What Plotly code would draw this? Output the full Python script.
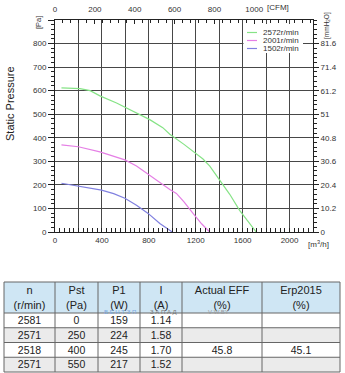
import plotly.graph_objects as go

# ---------------- data ----------------
flow_2572 = [55, 150, 213, 300, 383, 525, 666, 808, 919, 979, 1100, 1200, 1262, 1320, 1404, 1490, 1574, 1650, 1716]
pst_2572 = [612, 612, 609, 600, 578, 548, 512, 477, 443, 415, 372, 335, 310, 280, 222, 160, 92, 45, 0]

flow_2001 = [55, 199, 383, 596, 695, 780, 865, 979, 1035, 1100, 1177, 1250, 1319]
pst_2001 = [370, 362, 340, 306, 280, 249, 218, 180, 164, 128, 79, 35, 0]

flow_1502 = [55, 199, 397, 500, 596, 695, 794, 894, 1000]
pst_1502 = [207, 195, 178, 163, 143, 114, 79, 36, 0]

series_names = ["2572r/min", "2001r/min", "1502r/min"]
series_colors = ["#86e386", "#e57fe5", "#8080e0"]

x_ticks_m3h = list(range(0, 2201, 200))
x_labels_m3h = ["0", " ", "400", " ", "800", " ", "1200", " ", "1600", " ", "2000", " "]
x_ticks_cfm = [0, 200, 400, 600, 800, 1000]
y_ticks_pa = list(range(0, 901, 100))
y_labels_pa = ["0", "100", "200", "300", "400", "500", "600", "700", "800", " "]
mm_ticks = [0, 10.2, 20.4, 30.6, 40.8, 51, 61.2, 71.4, 81.6]
mm_labels = ["0", "10.2", "20.4", "30.6", "40.8", "51", "61.2", "71.4", "81.6"]

header_top = ["n", "Pst", "P1", "I", "Actual\u00a0EFF", "Erp2015"]
header_unit = ["(r/min)", "(Pa)", "(W)", "(A)", "(%)", "(%)"]
col_n = ["2581", "2571", "2518", "2571"]
col_pst = ["0", "250", "400", "550"]
col_p1 = ["159", "224", "245", "217"]
col_i = ["1.14", "1.58", "1.70", "1.52"]
col_eff = ["", "", "45.8", ""]
col_erp = ["", "", "45.1", ""]
col_widths = [51, 43, 42, 42, 80, 78]

# ---------------- layout helpers ----------------
W, H = 345, 373
def px(x):
    return x / W
def py(y):
    return 1 - y / H

FONT = "Liberation Sans, Arial, sans-serif"
AX = "#222222"
GRID = "#474747"
TXT = "#333333"
HEAD_BG = "#cfe6f4"
ROW_BG = ["#ffffff", "#ebebeb", "#ffffff", "#ebebeb"]
TLINE = "#666666"
CLEAR = "rgba(0,0,0,0)"

# table frame (pixels)
T_LEFT, T_RIGHT, T_TOP, T_HEAD_BOT, T_BOT = 4, 340, 282, 313, 372
ROW_H = (T_BOT - T_HEAD_BOT) / len(col_n)
TEXT_TOP = 278.2   # plotly draws table text ~cellPad below row top; shift text block up

fig = go.Figure()

for xs, ys, name, col in zip([flow_2572, flow_2001, flow_1502],
                             [pst_2572, pst_2001, pst_1502],
                             series_names, series_colors):
    fig.add_trace(go.Scatter(x=xs, y=ys, mode="lines", name=name,
                             line=dict(color=col, width=1.2),
                             showlegend=False, hoverinfo="skip"))

# dummy trace to make secondary axes render
fig.add_trace(go.Scatter(x=[None], y=[None], xaxis="x2", yaxis="y2",
                         showlegend=False, hoverinfo="skip"))

fig.add_trace(go.Table(
    domain=dict(x=[px(T_LEFT), px(T_RIGHT)], y=[py(T_BOT), py(TEXT_TOP)]),
    columnwidth=col_widths,
    header=dict(values=[[a, b] for a, b in zip(header_top, header_unit)], height=15,
                fill_color=CLEAR, line=dict(color=CLEAR, width=0),
                font=dict(family=FONT, size=11, color="#222222"), align="center"),
    cells=dict(values=[col_n, col_pst, col_p1, col_i, col_eff, col_erp], height=ROW_H,
               fill_color=CLEAR, line=dict(color=CLEAR, width=0),
               font=dict(family=FONT, size=10.5, color="#222222"), align="center"),
))

tickfont = dict(family=FONT, size=8, color=TXT)

fig.update_layout(
    width=W, height=H,
    margin=dict(l=0, r=0, t=0, b=0),
    paper_bgcolor="white", plot_bgcolor="white",
    template="none",
    showlegend=False,
    xaxis=dict(domain=[px(55), px(313)], range=[0, 2200], anchor="y",
               tickmode="array", tickvals=x_ticks_m3h, ticktext=x_labels_m3h,
               showgrid=True, gridcolor=GRID, gridwidth=1, zeroline=False,
               showline=True, linecolor=AX, linewidth=1,
               ticks="inside", ticklen=4, tickcolor=AX, tickfont=tickfont,
               minor=dict(tick0=0, dtick=40, ticks="inside", ticklen=4, tickcolor=AX, showgrid=False)),
    xaxis2=dict(overlaying="x", side="top", anchor="y", range=[0, 2200 / 1.699],
                tickmode="array", tickvals=x_ticks_cfm,
                showgrid=False, zeroline=False,
                showline=True, linecolor=AX, linewidth=1,
                ticks="inside", ticklen=4, tickcolor=AX, tickfont=tickfont,
                ticklabelstandoff=4,
                minor=dict(tick0=0, dtick=40, ticks="inside", ticklen=3, tickcolor=AX, showgrid=False)),
    yaxis=dict(domain=[py(232), py(20)], range=[0, 900], anchor="x",
               tickmode="array", tickvals=y_ticks_pa, ticktext=y_labels_pa,
               showgrid=True, gridcolor=GRID, gridwidth=1, zeroline=False,
               showline=True, linecolor=AX, linewidth=1,
               ticks="outside", ticklen=6, tickcolor=AX, tickfont=tickfont,
               minor=dict(tick0=0, dtick=20, ticks="outside", ticklen=3, tickcolor=AX, showgrid=False)),
    yaxis2=dict(overlaying="y", side="right", anchor="x", range=[0, 900 / 9.8],
                tickmode="array", tickvals=mm_ticks, ticktext=mm_labels,
                showgrid=False, zeroline=False,
                showline=True, linecolor=AX, linewidth=1,
                ticks="outside", ticklen=5, tickcolor=AX, tickfont=tickfont,
                minor=dict(tick0=0, dtick=2.04, ticks="outside", ticklen=3, tickcolor=AX, showgrid=False)),
)

annots = [
    dict(text="Static Pressure", x=px(10), y=py(104), textangle=-90,
         font=dict(family=FONT, size=11, color="#222222")),
    dict(text="[Pa]", x=px(38), y=py(23), textangle=-90,
         font=dict(family=FONT, size=7.5, color=TXT)),
    dict(text="[CFM]", x=px(278), y=py(7),
         font=dict(family=FONT, size=8, color=TXT)),
    dict(text="[mmH<sub>2</sub>O]", x=px(327), y=py(26), textangle=-90,
         font=dict(family=FONT, size=6.5, color=TXT)),
    dict(text="[m<sup>3</sup>/h]", x=px(318), y=py(244),
         font=dict(family=FONT, size=8, color=TXT)),
    dict(text="В Е Н Т З П", x=px(120), y=py(312),
         font=dict(family=FONT, size=6, color="#7aa9e0")),
    dict(text="З А П А Д", x=px(163), y=py(312),
         font=dict(family=FONT, size=6, color="#777777")),
    dict(text="V-W.BY", x=px(218), y=py(312),
         font=dict(family=FONT, size=6, color="#9a9a9a")),
]
for a in annots:
    a.update(xref="paper", yref="paper", showarrow=False, xanchor="center", yanchor="middle")

# manual legend
leg_rows = [32.5, 40.5, 48.5]
for name, col, yy in zip(series_names, series_colors, leg_rows):
    annots.append(dict(text=name, x=px(261), y=py(yy), xref="paper", yref="paper",
                       showarrow=False, xanchor="left", yanchor="middle",
                       font=dict(family=FONT, size=8, color=TXT)))

shapes = [dict(type="rect", xref="paper", yref="paper", x0=px(243.5), x1=px(303),
               y0=py(53), y1=py(24), fillcolor="white", line=dict(width=0), layer="above")]
for col, yy in zip(series_colors, leg_rows):
    shapes.append(dict(type="line", xref="paper", yref="paper", x0=px(247), x1=px(257),
                       y0=py(yy), y1=py(yy), line=dict(color=col, width=1.2), layer="above"))

# table fills and borders
shapes.append(dict(type="rect", xref="paper", yref="paper", x0=px(T_LEFT), x1=px(T_RIGHT),
                   y0=py(T_HEAD_BOT), y1=py(T_TOP), fillcolor=HEAD_BG, line=dict(width=0), layer="below"))
row_edges = [T_HEAD_BOT + i * ROW_H for i in range(len(col_n) + 1)]
for i, bg in enumerate(ROW_BG):
    shapes.append(dict(type="rect", xref="paper", yref="paper", x0=px(T_LEFT), x1=px(T_RIGHT),
                       y0=py(row_edges[i + 1]), y1=py(row_edges[i]), fillcolor=bg,
                       line=dict(width=0), layer="below"))
bounds = [T_LEFT]
tot = sum(col_widths)
for w in col_widths:
    bounds.append(bounds[-1] + w * (T_RIGHT - T_LEFT) / tot)
for yy in [T_TOP] + row_edges:
    shapes.append(dict(type="line", xref="paper", yref="paper", x0=px(T_LEFT), x1=px(T_RIGHT),
                       y0=py(yy), y1=py(yy), line=dict(color=TLINE, width=1), layer="above"))
for bx in bounds:
    shapes.append(dict(type="line", xref="paper", yref="paper", x0=px(bx), x1=px(bx),
                       y0=py(T_TOP), y1=py(T_BOT), line=dict(color=TLINE, width=1), layer="above"))

fig.update_layout(annotations=annots, shapes=shapes)

fig.write_html("out.html")
